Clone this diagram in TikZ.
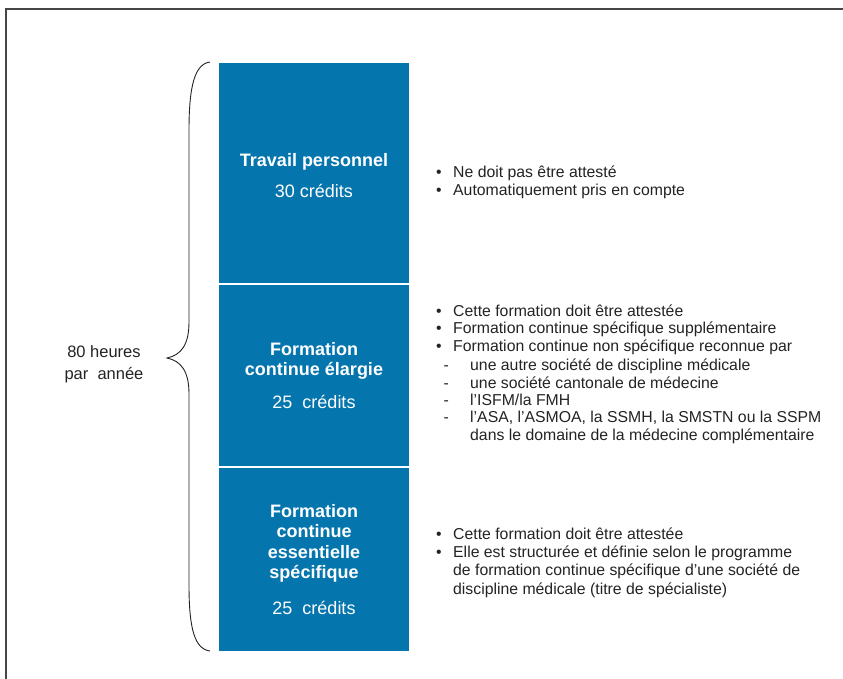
\documentclass[tikz,border=0pt]{standalone}
\usepackage{fontspec}
\setmainfont{Liberation Sans}
\definecolor{boxblue}{RGB}{5,117,174}
\definecolor{txtgray}{RGB}{35,35,35}
\definecolor{framegray}{RGB}{70,70,70}
\begin{document}
\begin{tikzpicture}[x=1pt,y=-1pt,
  blk/.style={fill=boxblue,draw=none},
  ttl/.style={anchor=base,text=white,inner sep=0pt,font=\fontsize{18}{21}\selectfont\bfseries},
  crd/.style={anchor=base,text=white,inner sep=0pt,font=\fontsize{18}{21}\selectfont},
  bul/.style={anchor=base west,text=txtgray,inner sep=0pt,font=\fontsize{15.8}{18}\selectfont},
  side/.style={anchor=base,text=txtgray,inner sep=0pt,font=\fontsize{16.5}{20}\selectfont}]
\useasboundingbox (0,0) rectangle (843,679);
% frame
\draw[framegray,line width=1.5pt] (6,679) -- (6,9) -- (843,9);
% boxes
\fill[blk] (219,63) rectangle (409,282.5);
\fill[blk] (219,284.5) rectangle (409,466);
\fill[blk] (219,468) rectangle (409,651);
% brace
\coordinate (bt) at (210,62);
\coordinate (bb) at (210,651);
\coordinate (tip) at (167,358);
\draw[txtgray,line width=0.9pt] (bt) .. controls (195,64) and (189,85) .. (189,130) -- (189,322)
  .. controls (189,345) and (181,355) .. (tip)
  .. controls (181,361) and (189,371) .. (189,394) -- (189,585)
  .. controls (189,630) and (195,649) .. (bb);
\node[side] (s1) at (104,357) {80 heures};
\node[side] (s2) at (104,379) {par\ \ année};
% box 1
\node[ttl] (t1) at (314,167) {Travail personnel};
\node[crd] (c1) at (314,197) {30 crédits};
% box 2
\node[ttl] (t2a) at (314,355) {Formation};
\node[ttl] (t2b) at (314,375.5) {continue élargie};
\node[crd] (c2) at (314,408) {25\ \ crédits};
% box 3
\node[ttl] (t3a) at (314,517) {Formation};
\node[ttl] (t3b) at (314,537.5) {continue};
\node[ttl] (t3c) at (314,558) {essentielle};
\node[ttl] (t3d) at (314,578.5) {spécifique};
\node[crd] (c3) at (314,614) {25\ \ crédits};
% bullets box 1
\node[bul] (d11) at (436,178) {•};
\node[bul] (b11) at (453,178) {Ne doit pas être attesté};
\node[bul] (d12) at (436,196) {•};
\node[bul] (b12) at (453,196) {Automatiquement pris en compte};
% bullets box 2
\node[bul] (d21) at (436,316) {•};
\node[bul] (b21) at (453,316) {Cette formation doit être attestée};
\node[bul] (d22) at (436,333.5) {•};
\node[bul] (b22) at (453,333.5) {Formation continue spécifique supplémentaire};
\node[bul] (d23) at (436,351) {•};
\node[bul] (b23) at (453,351) {Formation continue non spécifique reconnue par};
\node[bul] (e24) at (443.5,370.5) {-};
\node[bul] (b24) at (470,370.5) {une autre société de discipline médicale};
\node[bul] (e25) at (443.5,388) {-};
\node[bul] (b25) at (470,388) {une société cantonale de médecine};
\node[bul] (e26) at (443.5,405.5) {-};
\node[bul] (b26) at (470,405.5) {l’ISFM/la FMH};
\node[bul] (e27) at (443.5,422.5) {-};
\node[bul] (b27) at (470,422.5) {l’ASA, l’ASMOA, la SSMH, la SMSTN ou la SSPM};
\node[bul] (b28) at (470,440.5) {dans le domaine de la médecine complémentaire};
% bullets box 3
\node[bul] (d31) at (436,539) {•};
\node[bul] (b31) at (453,539) {Cette formation doit être attestée};
\node[bul] (d32) at (436,557) {•};
\node[bul] (b32) at (453,557) {Elle est structurée et définie selon le programme};
\node[bul] (b33) at (453,575) {de formation continue spécifique d’une société de};
\node[bul] (b34) at (453,594) {discipline médicale (titre de spécialiste)};
\end{tikzpicture}
\end{document}
